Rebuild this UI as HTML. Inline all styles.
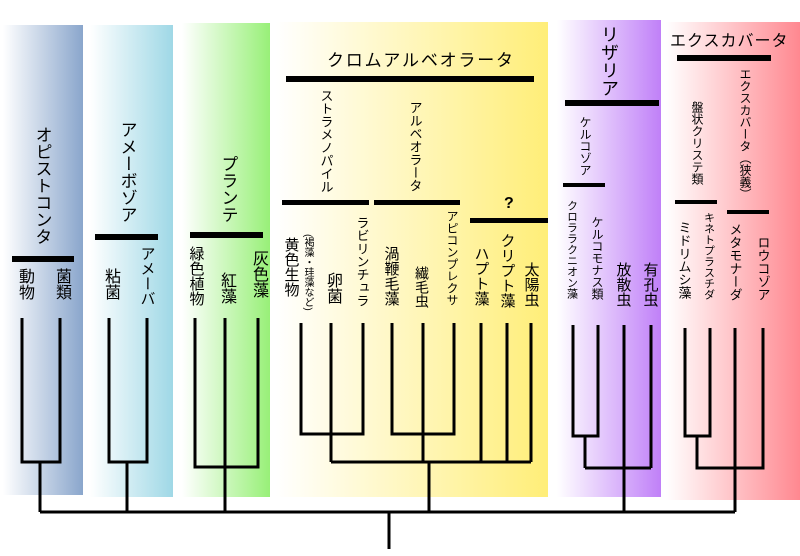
<!DOCTYPE html>
<html><head><meta charset="utf-8"><style>
body{margin:0;width:800px;height:556px;overflow:hidden;background:#fff;position:relative;font-family:"Liberation Sans","Noto Sans CJK JP",sans-serif;color:#000}
.v{position:absolute;writing-mode:vertical-rl;transform:translateX(-50%);line-height:1;white-space:nowrap}
.h{position:absolute;white-space:nowrap;line-height:1}
</style></head><body>
<svg width="800" height="556" style="position:absolute;left:0;top:0">
<defs>
<linearGradient id="g1"><stop offset="0" stop-color="#fff"/><stop offset="1" stop-color="#8aa6cc"/></linearGradient>
<linearGradient id="g2"><stop offset="0" stop-color="#fff"/><stop offset="1" stop-color="#9fd8e6"/></linearGradient>
<linearGradient id="g3"><stop offset="0" stop-color="#fff"/><stop offset="1" stop-color="#98f078"/></linearGradient>
<linearGradient id="g4"><stop offset="0" stop-color="#fff"/><stop offset="1" stop-color="#ffee78"/></linearGradient>
<linearGradient id="g5"><stop offset="0" stop-color="#fff"/><stop offset="1" stop-color="#c080f8"/></linearGradient>
<linearGradient id="g6"><stop offset="0" stop-color="#fff"/><stop offset="1" stop-color="#ff8890"/></linearGradient>
</defs>
<rect x="3" y="25" width="80" height="470" fill="url(#g1)"/>
<rect x="90" y="25" width="83" height="472" fill="url(#g2)"/>
<rect x="182" y="23" width="88" height="474" fill="url(#g3)"/>
<rect x="276" y="22" width="272" height="475" fill="url(#g4)"/>
<rect x="557" y="20" width="104" height="477" fill="url(#g5)"/>
<rect x="666" y="22" width="134" height="478" fill="url(#g6)"/>
<g stroke="#000" stroke-width="3" fill="none">
<path d="M40 512H735M389 512V549"/>
<path d="M22 318V462H60V318M40 462V512"/>
<path d="M109 318V462H147V318M127 462V512"/>
<path d="M195 318V467H258V318M225 318V512"/>
<path d="M301 323V434H363V323M331 323V462M392 323V434H454V323M423 323V462M331 462H531M481 323V462M507 323V462M531 323V462M429 462V512"/>
<path d="M573 325V436H598V325M585 436V468M585 468H651M624 325V512M651 325V468"/>
<path d="M685 328V436H710V328M697 436V468H763V328M735 328V512"/>
</g>
<g fill="#000">
<rect x="12" y="256" width="62" height="6"/>
<rect x="95" y="234" width="63" height="6"/>
<rect x="190" y="232" width="73" height="6"/>
<rect x="286" y="76" width="248" height="6"/>
<rect x="282" y="200" width="87" height="5"/>
<rect x="374" y="200" width="86" height="5"/>
<rect x="470" y="218" width="78" height="5"/>
<rect x="565" y="100" width="94" height="6"/>
<rect x="563" y="183" width="42" height="4"/>
<rect x="677" y="55" width="94" height="6"/>
<rect x="675" y="200" width="42" height="4"/>
<rect x="727" y="210" width="42" height="4"/>
</g>
</svg>
<div class="v" style="left:42px;top:126px;font-size:17px">オピストコンタ</div>
<div class="v" style="left:24px;top:268px;font-size:16px">動物</div>
<div class="v" style="left:61px;top:268px;font-size:16px">菌類</div>
<div class="v" style="left:127px;top:121px;font-size:17px">アメーボゾア</div>
<div class="v" style="left:110px;top:268px;font-size:16px">粘菌</div>
<div class="v" style="left:147px;top:246px;font-size:15px">アメーバ</div>
<div class="v" style="left:228px;top:155px;font-size:17px">プランテ</div>
<div class="v" style="left:196px;top:246px;font-size:15px">緑色植物</div>
<div class="v" style="left:226px;top:272px;font-size:16px">紅藻</div>
<div class="v" style="left:258px;top:250px;font-size:16px">灰色藻</div>
<div class="h" style="left:327px;top:52px;font-size:17px;letter-spacing:1.8px">クロムアルベオラータ</div>
<div class="v" style="left:326px;top:89px;font-size:13px">ストラメノパイル</div>
<div class="v" style="left:415px;top:101px;font-size:13px">アルベオラータ</div>
<div class="h" style="left:504px;top:196px;font-size:16px;font-weight:bold">?</div>
<div class="v" style="left:291px;top:237px;font-size:15px">黄色生物</div>
<div class="v" style="left:307px;top:234px;font-size:10px">(褐藻・珪藻など)</div>
<div class="v" style="left:332px;top:272px;font-size:16px">卵菌</div>
<div class="v" style="left:362px;top:216px;font-size:13px">ラビリンチュラ</div>
<div class="v" style="left:391px;top:246px;font-size:15px">渦鞭毛藻</div>
<div class="v" style="left:422px;top:266px;font-size:14px">繊毛虫</div>
<div class="v" style="left:452px;top:210px;font-size:12px">アピコンプレクサ</div>
<div class="v" style="left:481px;top:246px;font-size:15px">ハプト藻</div>
<div class="v" style="left:507px;top:233px;font-size:15px">クリプト藻</div>
<div class="v" style="left:531px;top:262px;font-size:15px">太陽虫</div>
<div class="v" style="left:609px;top:25px;font-size:18px">リザリア</div>
<div class="v" style="left:585px;top:116px;font-size:12px">ケルコゾア</div>
<div class="v" style="left:571px;top:200px;font-size:11px">クロララクニオン藻</div>
<div class="v" style="left:597px;top:216px;font-size:12px">ケルコモナス類</div>
<div class="v" style="left:623px;top:262px;font-size:15px">放散虫</div>
<div class="v" style="left:650px;top:262px;font-size:15px">有孔虫</div>
<div class="h" style="left:670px;top:34px;font-size:16px;letter-spacing:1px">エクスカバータ</div>
<div class="v" style="left:697px;top:101px;font-size:12px">盤状クリステ類</div>
<div class="v" style="left:745px;top:68px;font-size:12px">エクスカバータ（狭義）</div>
<div class="v" style="left:684px;top:221px;font-size:13px">ミドリムシ藻</div>
<div class="v" style="left:708px;top:212px;font-size:11px">キネトプラスチダ</div>
<div class="v" style="left:735px;top:223px;font-size:13px">メタモナーダ</div>
<div class="v" style="left:763px;top:236px;font-size:13px">ロウコゾア</div>
</body></html>
